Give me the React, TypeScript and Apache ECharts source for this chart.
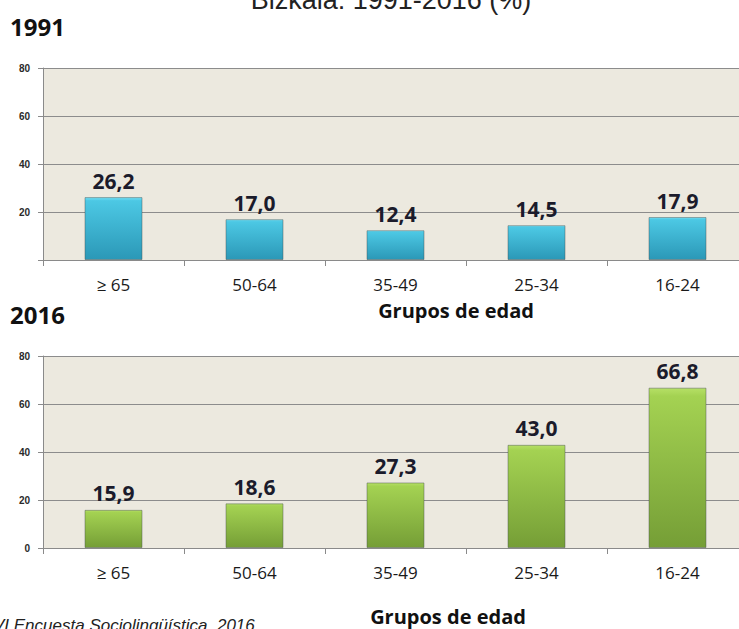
import React, { useEffect, useRef } from "react";
import * as echarts from "echarts";

const categories = ["≥ 65", "50-64", "35-49", "25-34", "16-24"];
const values1991 = [26.2, 17.0, 12.4, 14.5, 17.9];
const values2016 = [15.9, 18.6, 27.3, 43.0, 66.8];
const yMin = 0;
const yMax = 80;
const yInterval = 20;
const titleText = "Bizkaia: 1991-2016 (%)";
const year1 = "1991";
const year2 = "2016";
const axisTitle = "Grupos de edad";
const sourceText = "VI Encuesta Sociolingüística. 2016";

const fmt = (v: number) => v.toFixed(1).replace(".", ",");

const blueGrad = new echarts.graphic.LinearGradient(0, 0, 0, 1, [
  { offset: 0, color: "#74e0f5" },
  { offset: 0.05, color: "#4cc8e4" },
  { offset: 1, color: "#2b98b7" },
]);
const greenGrad = new echarts.graphic.LinearGradient(0, 0, 0, 1, [
  { offset: 0, color: "#b6e066" },
  { offset: 0.05, color: "#a4d252" },
  { offset: 1, color: "#759e36" },
]);

export default function App() {
  const ref = useRef<HTMLDivElement>(null);
  useEffect(() => {
    if (!ref.current) return;
    const chart = echarts.init(ref.current, null, { renderer: "svg" });
    const grids = [
      { left: 43, top: 68, height: 192, width: 705 },
      { left: 43, top: 356, height: 192, width: 705 },
    ];
    const mkX = (i: number) => ({
      type: "category" as const,
      gridIndex: i,
      data: categories,
      axisLine: { show: true, lineStyle: { color: "#8a8a8a", width: 1 } },
      axisTick: { show: true, length: 6, lineStyle: { color: "#8a8a8a" } },
      axisLabel: {
        margin: 16,
        fontSize: 17,
        fontFamily: "Open Sans",
        color: "#1a1a1a",
      },
    });
    const mkY = (i: number) => ({
      type: "value" as const,
      gridIndex: i,
      min: yMin,
      max: yMax,
      interval: yInterval,
      axisLine: { show: true, lineStyle: { color: "#8a8a8a", width: 1 } },
      axisTick: { show: true, length: 5, lineStyle: { color: "#8a8a8a" } },
      splitLine: { show: true, lineStyle: { color: "#8c8c8c", width: 1 } },
      axisLabel: {
        margin: 13,
        fontSize: 10,
        fontWeight: "bold" as const,
        fontFamily: "Liberation Sans",
        color: "#2a2a2a",
        formatter: (v: number) => (i === 0 && v === 0 ? "" : String(v)),
      },
    });
    const mkSeries = (i: number, data: number[], color: any) => ({
      type: "bar" as const,
      xAxisIndex: i,
      yAxisIndex: i,
      data,
      barWidth: 58,
      itemStyle: {
        color,
        borderColor: "rgba(70,80,80,0.45)",
        borderWidth: 1,
      },
      label: {
        show: true,
        position: "top" as const,
        distance: 6,
        fontSize: 21,
        fontWeight: "bold" as const,
        fontFamily: "Open Sans",
        color: "#1b1b2b",
        formatter: (p: any) => fmt(p.value),
      },
    });
    chart.setOption({
      animation: false,
      backgroundColor: "#ffffff",
      grid: grids.map((g) => ({
        ...g,
        show: true,
        backgroundColor: "#ece9df",
        borderWidth: 0,
        containLabel: false,
        outerBoundsMode: "none",
      })),
      xAxis: [mkX(0), mkX(1)],
      yAxis: [mkY(0), mkY(1)],
      series: [mkSeries(0, values1991, blueGrad), mkSeries(1, values2016, greenGrad)],
      graphic: [
        {
          type: "text",
          x: 391,
          y: 0,
          style: {
            text: titleText,
            fontSize: 27,
            fontFamily: "Liberation Sans",
            fill: "#222",
            align: "center",
            verticalAlign: "middle",
          },
        },
        {
          type: "text",
          x: 10,
          y: 26,
          style: {
            text: year1,
            fontSize: 24,
            fontWeight: "bold",
            fontFamily: "Open Sans",
            fill: "#111",
            align: "left",
            verticalAlign: "middle",
          },
        },
        {
          type: "text",
          x: 10,
          y: 314,
          style: {
            text: year2,
            fontSize: 24,
            fontWeight: "bold",
            fontFamily: "Open Sans",
            fill: "#111",
            align: "left",
            verticalAlign: "middle",
          },
        },
        {
          type: "text",
          x: 456,
          y: 310,
          style: {
            text: axisTitle,
            fontSize: 20,
            fontWeight: "bold",
            fontFamily: "Open Sans",
            fill: "#111",
            align: "center",
            verticalAlign: "middle",
          },
        },
        {
          type: "text",
          x: 448,
          y: 616,
          style: {
            text: axisTitle,
            fontSize: 20,
            fontWeight: "bold",
            fontFamily: "Open Sans",
            fill: "#111",
            align: "center",
            verticalAlign: "middle",
          },
        },
        {
          type: "text",
          x: -7,
          y: 625,
          style: {
            text: sourceText,
            fontSize: 17,
            fontStyle: "italic",
            fontFamily: "Liberation Sans",
            fill: "#222",
            align: "left",
            verticalAlign: "middle",
          },
        },
      ],
    });
    return () => chart.dispose();
  }, []);
  return (
    <div
      ref={ref}
      style={{ position: "absolute", left: 0, top: 0, width: 739, height: 629 }}
    />
  );
}
